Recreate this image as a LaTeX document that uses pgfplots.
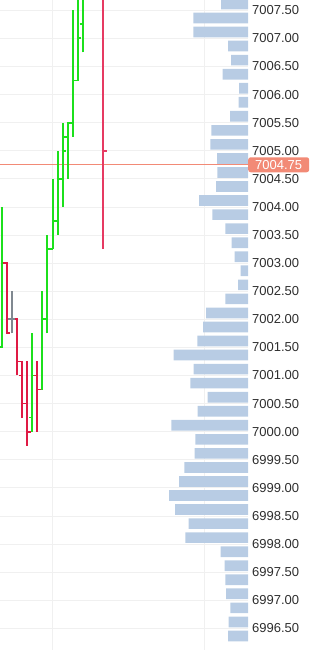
\documentclass[border=0pt]{standalone}
\usepackage{fontspec}
\setmainfont{Liberation Sans}
\usepackage{pgfplots}
\pgfplotsset{compat=1.18}
\usepackage{pgfplotstable}

\definecolor{upc}{HTML}{1CE01C}
\definecolor{dnc}{HTML}{DF1A44}
\definecolor{curc}{HTML}{E63A62}
\definecolor{flatc}{HTML}{808890}
\definecolor{volc}{HTML}{B8CCE4}
\definecolor{pricec}{HTML}{F28A76}
\definecolor{gridc}{HTML}{F0F0F0}
\definecolor{labc}{HTML}{2E2E2E}

\pgfdeclareplotmark{otick}{\pgfpathmoveto{\pgfqpoint{-3.5bp}{0pt}}\pgfpathlineto{\pgfqpoint{0.8bp}{0pt}}\pgfusepathqstroke}
\pgfdeclareplotmark{ctick}{\pgfpathmoveto{\pgfqpoint{-0.8bp}{0pt}}\pgfpathlineto{\pgfqpoint{3.5bp}{0pt}}\pgfusepathqstroke}

% OHLC bars: i = bar index
\pgfplotstableread{
i O H L C
0 7001.50 7004.00 7001.50 7003.00
6 7000.25 7001.75 7000.00 7001.00
8 7000.75 7002.50 7000.75 7002.00
9 7002.00 7003.50 7001.75 7003.25
10 7003.25 7004.50 7003.25 7003.75
11 7003.75 7005.00 7003.50 7004.50
12 7004.50 7005.50 7004.00 7005.00
13 7005.25 7005.50 7004.50 7005.50
14 7005.50 7007.50 7005.25 7006.25
15 7006.25 7008.00 7006.25 7007.00
16 7007.25 7008.00 7006.75 7007.75
}\upbars

\pgfplotstableread{
i O H L C
1 7003.00 7003.00 7001.75 7001.75
3 7002.00 7002.00 7001.00 7001.25
4 7001.00 7001.25 7000.25 7000.50
5 7000.50 7001.25 6999.75 7000.00
7 7001.00 7001.25 7000.00 7000.75
}\dnbars

\pgfplotstableread{
i O H L C
2 7002.00 7002.50 7001.75 7002.00
}\flatbars

\pgfplotstableread{
i O H L C
20 7008.00 7008.00 7003.25 7005.00
}\curbars

% volume profile: price, volume
\pgfplotstableread{
p v
7007.75 33
7007.50 27
7007.25 54.7
7007.00 54.7
7006.75 20
7006.50 17
7006.25 25.3
7006.00 9
7005.75 9.3
7005.50 18
7005.25 36.7
7005.00 37.7
7004.75 31
7004.50 30.7
7004.25 32
7004.00 49
7003.75 35.7
7003.50 22.7
7003.25 16.3
7003.00 13.3
7002.75 7.3
7002.50 10
7002.25 22.7
7002.00 42
7001.75 45
7001.50 50.7
7001.25 74.3
7001.00 54.3
7000.75 57.7
7000.50 40.3
7000.25 50.3
7000.00 76.7
6999.75 52.7
6999.50 53.3
6999.25 63.7
6999.00 69
6998.75 79
6998.50 73
6998.25 59.3
6998.00 62.7
6997.75 27.3
6997.50 23.3
6997.25 22.7
6997.00 22
6996.75 17.7
6996.50 19.3
6996.25 20
}\volprof

\pgfplotsset{
  ohlc/.style={
    forget plot, draw=#1, mark=none, line width=2bp, -,
    quiver={u=0, v=\thisrow{H}-\thisrow{L}, every arrow/.append style={line width=2bp, draw=#1}}
  },
}

\begin{document}
\begin{tikzpicture}
\begin{axis}[
  scale only axis,
  width=248bp, height=650bp,
  xmin=-0.355, xmax=48.51,
  ymin=6996.113, ymax=7007.683,
  axis line style={draw=none},
  tick style={draw=none},
  xtick={10,40}, xticklabels={},
  ytick={6996.5,6997,...,7007.5},
  xmajorgrids, ymajorgrids,
  grid style={draw=gridc, line width=0.8bp},
  yticklabel pos=right,
  yticklabel style={anchor=west, inner sep=0pt, xshift=4bp, font=\fontsize{13bp}{15bp}\selectfont, text=labc,
    /pgf/number format/.cd, fixed, fixed zerofill, precision=2, 1000 sep={}, assume math mode=true},
  clip marker paths=true,
]
% last price line
\addplot[forget plot, draw=pricec, line width=0.9bp] coordinates {(-0.355,7004.75) (48.51,7004.75)};

% up bars
\addplot[ohlc=upc] table[x=i, y=L] {\upbars};
\addplot[forget plot, only marks, mark=otick, mark options={draw=upc, line width=1.8bp}] table[x=i, y=O] {\upbars};
\addplot[forget plot, only marks, mark=ctick, mark options={draw=upc, line width=1.8bp}] table[x=i, y=C] {\upbars};
% down bars
\addplot[ohlc=dnc] table[x=i, y=L] {\dnbars};
\addplot[forget plot, only marks, mark=otick, mark options={draw=dnc, line width=1.8bp}] table[x=i, y=O] {\dnbars};
\addplot[forget plot, only marks, mark=ctick, mark options={draw=dnc, line width=1.8bp}] table[x=i, y=C] {\dnbars};
% flat bar
\addplot[ohlc=flatc] table[x=i, y=L] {\flatbars};
\addplot[forget plot, only marks, mark=otick, mark options={draw=flatc, line width=1.8bp}] table[x=i, y=O] {\flatbars};
\addplot[forget plot, only marks, mark=ctick, mark options={draw=flatc, line width=1.8bp}] table[x=i, y=C] {\flatbars};
% current bar
\addplot[ohlc=curc] table[x=i, y=L] {\curbars};
\addplot[forget plot, only marks, mark=ctick, mark options={draw=curc, line width=1.8bp}] table[x=i, y=C] {\curbars};
\end{axis}

\begin{axis}[
  scale only axis,
  width=248bp, height=650bp,
  xmin=0, xmax=248, x dir=reverse,
  ymin=6996.113, ymax=7007.683,
  hide axis,
  xbar, bar width=0.19,
  clip=false,
]
\addplot[forget plot, fill=volc, draw=none] table[x=v, y=p] {\volprof};
\node[anchor=west, fill=pricec, text=white, rounded corners=2.5bp, inner xsep=5bp, inner ysep=0pt,
      minimum height=15bp, minimum width=61bp, font=\fontsize{13bp}{15bp}\selectfont]
  at (axis cs:0,7004.75) {7004.75};
\end{axis}
\pgfresetboundingbox
\path (0,0) rectangle (314bp,650bp);
\end{tikzpicture}
\end{document}
